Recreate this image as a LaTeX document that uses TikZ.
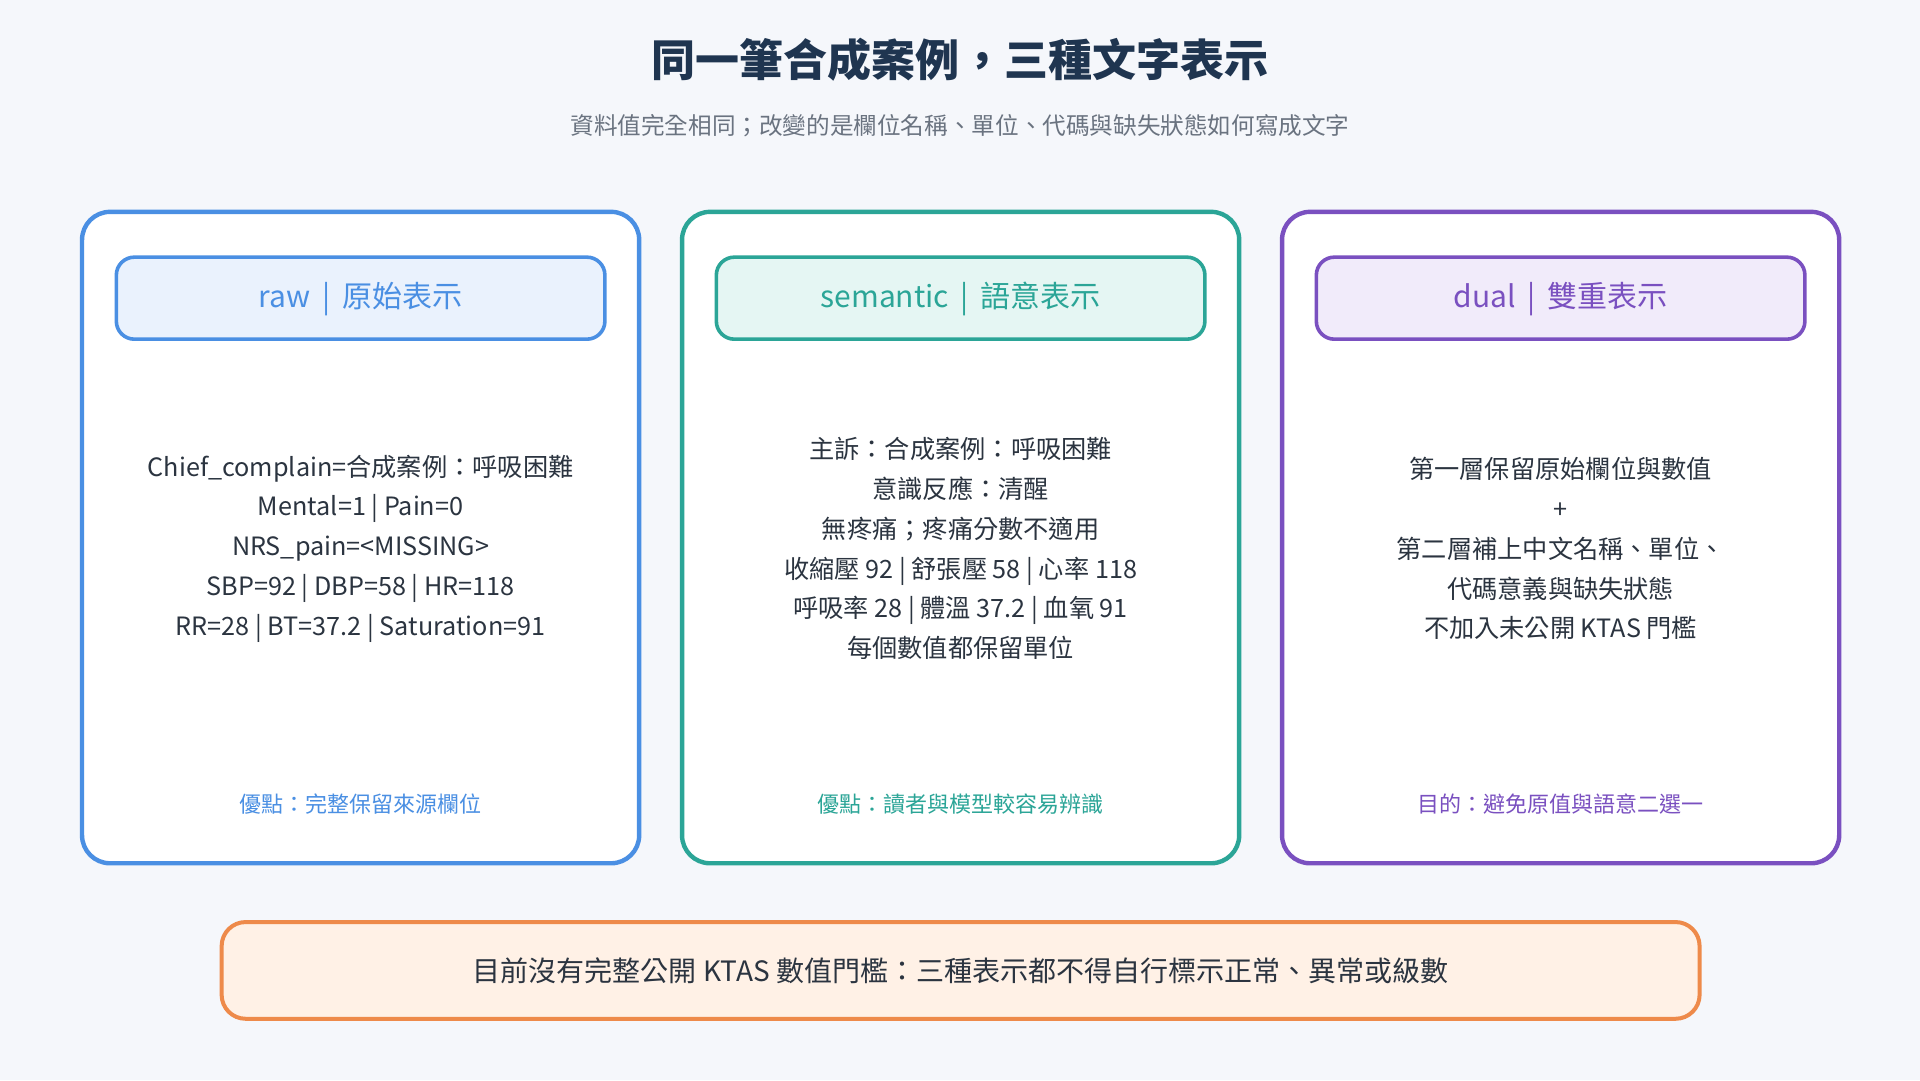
\documentclass[tikz,border=0pt]{standalone}
\usepackage{fontspec}
\setmainfont{Noto Sans CJK TC}
\definecolor{bg}{HTML}{F5F7FB}
\definecolor{cblue}{HTML}{4A8FE3}
\definecolor{cteal}{HTML}{2BA597}
\definecolor{cpurp}{HTML}{7A50C0}
\definecolor{corange}{HTML}{EE8A4A}
\definecolor{fblue}{HTML}{EAF2FD}
\definecolor{fteal}{HTML}{E5F6F3}
\definecolor{fpurp}{HTML}{F1EBFA}
\definecolor{forange}{HTML}{FFF1E6}
\definecolor{ink}{HTML}{1F3550}
\definecolor{txt}{HTML}{2B3440}
\definecolor{sub}{HTML}{6A7380}
\begin{document}
\begin{tikzpicture}[x=0.612pt,y=-0.612pt,
 card/.style={draw=#1,line width=2.2pt,fill=white,rounded corners=14pt},
 head/.style={draw=#1,line width=1.8pt,rounded corners=9pt},
 htext/.style={text=#1,font=\fontsize{15}{18}\selectfont},
 body/.style={text=txt,align=center,font=\fontsize{12.6}{19.9}\selectfont},
 foot/.style={text=#1,font=\fontsize{11}{13}\selectfont}]
\fill[bg] (0,0) rectangle (1568,882);
\useasboundingbox (0,0) rectangle (1568,882);
\node[text=ink,font=\fontsize{22}{26}\selectfont\bfseries] (title) at (784,49) {同一筆合成案例，三種文字表示};
\node[text=sub,font=\fontsize{11.8}{14}\selectfont] (subt) at (784,103) {資料值完全相同；改變的是欄位名稱、單位、代碼與缺失狀態如何寫成文字};
% cards
\draw[card=cblue] (67,173) rectangle (522,705);
\draw[card=cteal] (557,173) rectangle (1012,705);
\draw[card=cpurp] (1047,173) rectangle (1502,705);
\draw[head=cblue,fill=fblue] (95,210) rectangle (494,277);
\draw[head=cteal,fill=fteal] (585,210) rectangle (984,277);
\draw[head=cpurp,fill=fpurp] (1075,210) rectangle (1474,277);
\node[htext=cblue] (h1) at (294.5,244) {raw \,|\, 原始表示};
\node[htext=cteal] (h2) at (784.5,244) {semantic \,|\, 語意表示};
\node[htext=cpurp] (h3) at (1274.5,244) {dual \,|\, 雙重表示};
\node[body] (b1) at (294.5,448) {Chief\_complain=合成案例：呼吸困難\\Mental=1 | Pain=0\\NRS\_pain=<MISSING>\\SBP=92 | DBP=58 | HR=118\\RR=28 | BT=37.2 | Saturation=91};
\node[body] (b2) at (784.5,448) {主訴：合成案例：呼吸困難\\意識反應：清醒\\無疼痛；疼痛分數不適用\\收縮壓 92 | 舒張壓 58 | 心率 118\\呼吸率 28 | 體溫 37.2 | 血氧 91\\每個數值都保留單位};
\node[body] (b3) at (1274.5,448) {第一層保留原始欄位與數值\\+\\第二層補上中文名稱、單位、\\代碼意義與缺失狀態\\不加入未公開 KTAS 門檻};
\node[foot=cblue] (f1) at (294.5,657) {優點：完整保留來源欄位};
\node[foot=cteal] (f2) at (784.5,657) {優點：讀者與模型較容易辨識};
\node[foot=cpurp] (f3) at (1274.5,657) {目的：避免原值與語意二選一};
% bottom
\draw[draw=corange,line width=2pt,fill=forange,rounded corners=12pt] (181,753) rectangle (1388,832);
\node[text=txt,font=\fontsize{14}{17}\selectfont] (bt) at (784.5,793) {目前沒有完整公開 KTAS 數值門檻：三種表示都不得自行標示正常、異常或級數};
\end{tikzpicture}
\end{document}
